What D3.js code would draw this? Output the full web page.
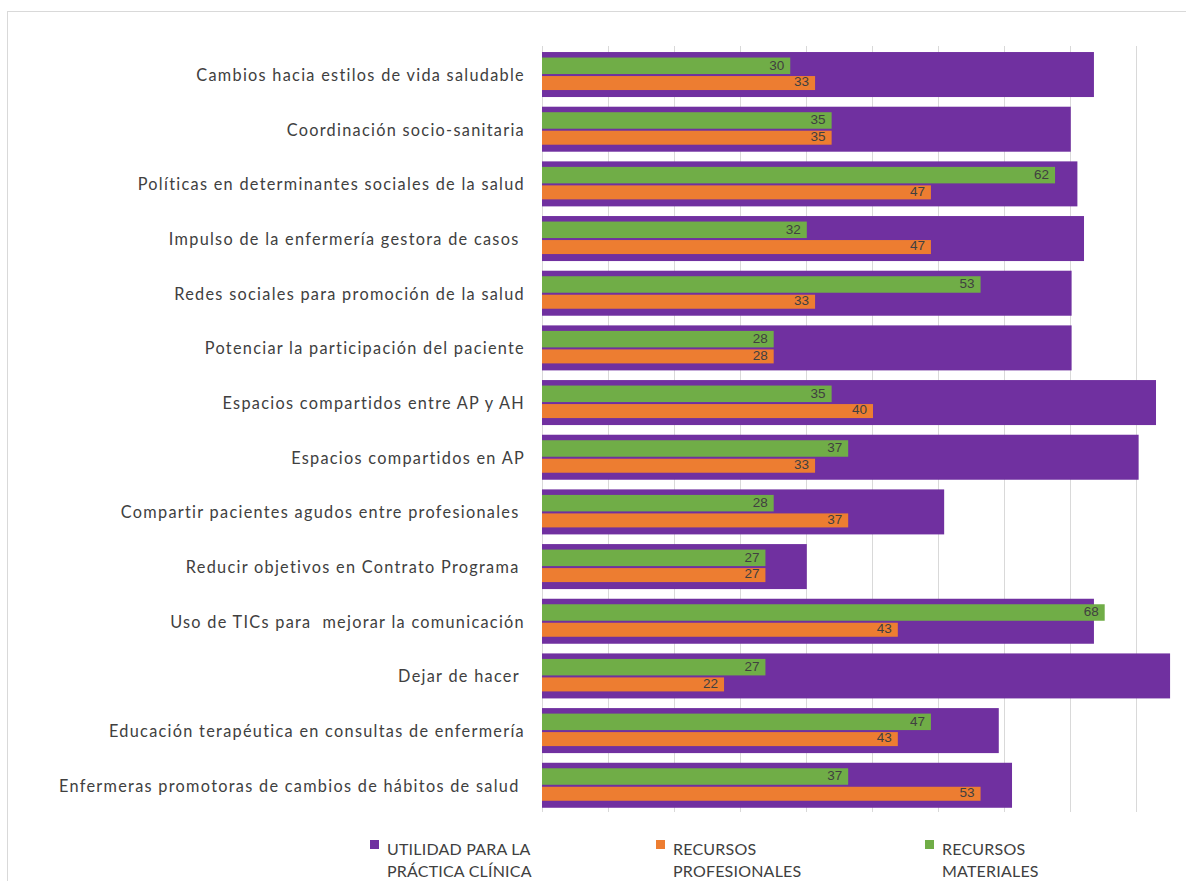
<!DOCTYPE html>
<html>
<head>
<meta charset="utf-8">
<script src="https://cdn.jsdelivr.net/npm/d3@7"></script>
<style>
  html, body { margin: 0; padding: 0; background: #fff; }
  svg { display: block; }
  text { white-space: pre; }
</style>
</head>
<body>
<svg id="chart" width="1186" height="881"></svg>
<script>
// ---- DATA ----
const categories = [
  "Cambios hacia estilos de vida saludable",
  "Coordinación socio-sanitaria",
  "Políticas en determinantes sociales de la salud",
  "Impulso de la enfermería gestora de casos ",
  "Redes sociales para promoción de la salud",
  "Potenciar la participación del paciente",
  "Espacios compartidos entre AP y AH",
  "Espacios compartidos en AP",
  "Compartir pacientes agudos entre profesionales ",
  "Reducir objetivos en Contrato Programa ",
  "Uso de TICs para  mejorar la comunicación",
  "Dejar de hacer ",
  "Educación terapéutica en consultas de enfermería",
  "Enfermeras promotoras de cambios de hábitos de salud "
];
const utilidad      = [66.7, 63.9, 64.7, 65.5, 64.0, 64.0, 74.2, 72.1, 48.6, 32.0, 66.7, 75.9, 55.2, 56.8];
const profesionales = [33, 35, 47, 47, 33, 28, 40, 33, 37, 27, 43, 22, 43, 53];
const materiales    = [30, 35, 62, 32, 53, 28, 35, 37, 28, 27, 68, 27, 47, 37];
const gridTicks     = [0, 8, 16, 24, 32, 40, 48, 56, 64, 72, 80];
const seriesNames   = [["UTILIDAD PARA LA", "PRÁCTICA CLÍNICA"], ["RECURSOS", "PROFESIONALES"], ["RECURSOS", "MATERIALES"]];
const seriesColors  = ["#7030A0", "#ED7D31", "#70AD47"];

// ---- LAYOUT ----
const svg = d3.select("#chart");
const textColor = "#404040";
const gridColor = "#d9d9d9";
const plotTop = 46, plotBottom = 812;

// chart border
svg.append("rect")
  .attr("x", 7.5).attr("y", 11.5)
  .attr("width", 1200).attr("height", 900)
  .attr("fill", "none").attr("stroke", gridColor).attr("stroke-width", 1);

const x = d3.scaleLinear().domain([0, 80]).range([542, 1204]);
const y = d3.scaleBand().domain(categories).range([47.2, 812.6]).padding(0);
const bw = y.bandwidth();
const cy = d => y(d) + bw / 2;

// gridlines
const grid = svg.append("g")
  .attr("transform", `translate(0,${plotBottom})`)
  .call(d3.axisBottom(d3.scaleLinear().domain([0, 80]).range([542, 1202]))
    .tickValues(gridTicks).tickSize(-(plotBottom - plotTop)).tickFormat(""));
grid.select(".domain").remove();
grid.selectAll(".tick line").attr("stroke", gridColor).attr("stroke-width", 1);

// purple bars
const purpleH = 45;
svg.append("g").selectAll("rect").data(categories).join("rect")
  .attr("x", x(0))
  .attr("y", d => cy(d) - purpleH / 2)
  .attr("width", (d, i) => x(utilidad[i]) - x(0))
  .attr("height", purpleH)
  .attr("fill", seriesColors[0]);

// green bars (materiales)
svg.append("g").selectAll("rect").data(categories).join("rect")
  .attr("x", x(0))
  .attr("y", d => cy(d) - 17)
  .attr("width", (d, i) => x(materiales[i]) - x(0))
  .attr("height", 16.5)
  .attr("fill", seriesColors[2]);

// orange bars (profesionales)
svg.append("g").selectAll("rect").data(categories).join("rect")
  .attr("x", x(0))
  .attr("y", d => cy(d) + 1.5)
  .attr("width", (d, i) => x(profesionales[i]) - x(0))
  .attr("height", 14)
  .attr("fill", seriesColors[1]);

// data labels
const labelFont = "'Liberation Sans', Arial, sans-serif";
svg.append("g").selectAll("text").data(categories).join("text")
  .attr("x", (d, i) => x(materiales[i]) - 6)
  .attr("y", d => cy(d) - 9.5)
  .attr("text-anchor", "end").attr("dominant-baseline", "central")
  .attr("font-family", labelFont).attr("font-size", 13.5)
  .attr("fill", textColor)
  .text((d, i) => materiales[i]);
svg.append("g").selectAll("text").data(categories).join("text")
  .attr("x", (d, i) => x(profesionales[i]) - 6)
  .attr("y", d => cy(d) + 7.3)
  .attr("text-anchor", "end").attr("dominant-baseline", "central")
  .attr("font-family", labelFont).attr("font-size", 13.5)
  .attr("fill", textColor)
  .text((d, i) => profesionales[i]);

// category labels
const catFont = "Lato, 'Open Sans', sans-serif";
const catLabels = svg.append("g").selectAll("text").data(categories).join("text")
  .attr("x", 525)
  .attr("y", d => cy(d))
  .attr("text-anchor", "end").attr("dominant-baseline", "central")
  .attr("font-family", catFont).attr("font-size", 16.3)
  .attr("fill", textColor)
  .text(d => d);
// letter spacing so that the longest label spans like the reference (~55 → 521)
const longest = catLabels.filter((d, i) => i === categories.length - 1).node();
const natW = longest.getComputedTextLength();
const nChars = categories[categories.length - 1].length;
const ls = Math.max(0, (466 - natW) / nChars);
catLabels.attr("letter-spacing", ls);

// legend
const legendX = [387, 673, 942];
const legend = svg.append("g");
seriesNames.forEach((lines, i) => {
  legend.append("rect")
    .attr("x", legendX[i] - 17).attr("y", 840)
    .attr("width", 9).attr("height", 9)
    .attr("fill", seriesColors[i]);
  lines.forEach((t, j) => {
    legend.append("text")
      .attr("x", legendX[i]).attr("y", 854.5 + j * 22)
      .attr("font-family", catFont).attr("font-size", 16)
      .attr("letter-spacing", 0.2)
      .attr("fill", textColor)
      .text(t);
  });
});
</script>
</body>
</html>
